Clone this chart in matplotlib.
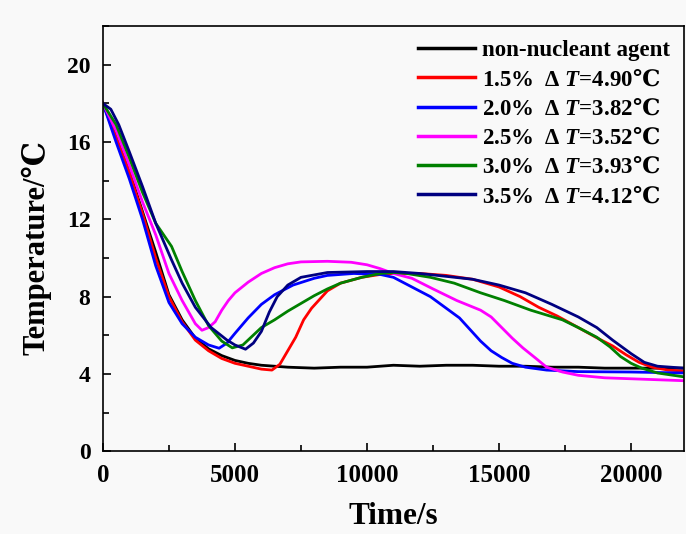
import numpy as np
import matplotlib
matplotlib.use("Agg")
import matplotlib.pyplot as plt
from matplotlib.ticker import MultipleLocator

plt.rcParams['font.family'] = ['Liberation Serif', 'DejaVu Serif']
plt.rcParams['font.weight'] = 'bold'
plt.rcParams['mathtext.fontset'] = 'custom'
plt.rcParams['mathtext.rm'] = 'Liberation Serif:bold'
plt.rcParams['mathtext.it'] = 'Liberation Serif:italic:bold'
plt.rcParams['mathtext.sf'] = 'DejaVu Serif'   # only used for the ℃ sign

# values (time in s, temperature in degC)
t_none = [0, 500, 1000, 1500, 2000, 2500, 3000, 3500, 4000, 4500, 5000, 5500, 6000, 7000,
          8000, 9000, 10000, 11000, 12000, 13000, 14000, 15000, 16000, 17000, 18000,
          19000, 20000, 21000, 22000]
T_none = [18.0, 16.3, 14.5, 12.4, 10.3, 8.1, 6.8, 5.85, 5.3, 4.95, 4.7, 4.55, 4.45, 4.35,
          4.3, 4.35, 4.35, 4.45, 4.4, 4.45, 4.45, 4.4, 4.4, 4.35, 4.35,
          4.3, 4.3, 4.3, 4.3]

t_15 = [0, 500, 1000, 1500, 2000, 2500, 3000, 3500, 4000, 4500, 5000, 5500, 6000, 6400,
        6700, 7000, 7300, 7600, 7900, 8500, 9000, 9800, 10500, 11000, 12000, 13000, 14000,
        15000, 15800, 16500, 17200, 18000, 18800, 19300, 19800, 20300, 20800, 21400, 22000]
T_15 = [18.0, 16.2, 14.4, 12.3, 10.0, 8.0, 6.7, 5.75, 5.2, 4.8, 4.55, 4.4, 4.25, 4.2,
        4.5, 5.2, 5.9, 6.8, 7.4, 8.3, 8.7, 9.0, 9.15, 9.2, 9.2, 9.1, 8.9,
        8.5, 8.0, 7.45, 7.0, 6.4, 5.8, 5.45, 5.0, 4.6, 4.35, 4.2, 4.15]

t_20 = [0, 500, 1000, 1500, 2000, 2500, 3000, 3500, 4000, 4400, 4700, 5000, 5500, 6000,
        6500, 7200, 8000, 8500, 9500, 10500, 11000, 11700, 12400, 13000, 13500, 13900,
        14300, 14700, 15100, 15500, 16000, 16800, 18000, 20000, 22000]
T_20 = [18.0, 16.0, 14.1, 12.0, 9.6, 7.7, 6.6, 5.9, 5.5, 5.33, 5.6, 6.1, 6.9, 7.6,
        8.1, 8.6, 8.95, 9.1, 9.2, 9.15, 9.0, 8.5, 8.0, 7.4, 6.9, 6.3,
        5.7, 5.2, 4.85, 4.55, 4.35, 4.2, 4.12, 4.1, 4.05]

t_25 = [0, 500, 1000, 1500, 2000, 2500, 3000, 3500, 3750, 4000, 4250, 4500, 4750, 5000,
        5500, 6000, 6500, 7000, 7500, 8500, 9400, 10000, 10500, 11000, 11700, 12500,
        13400, 14300, 14700, 15100, 15500, 15900, 16400, 16800, 17400, 18000, 19000,
        20000, 21000, 22000]
T_25 = [18.0, 16.6, 14.8, 12.9, 11.2, 9.2, 7.8, 6.6, 6.26, 6.4, 6.7, 7.3, 7.8, 8.2,
        8.75, 9.2, 9.5, 9.7, 9.8, 9.83, 9.78, 9.65, 9.45, 9.2, 8.95, 8.4,
        7.8, 7.3, 6.95, 6.4, 5.85, 5.35, 4.8, 4.35, 4.1, 3.93, 3.8,
        3.75, 3.7, 3.65]

t_30 = [0, 500, 1000, 1500, 2000, 2200, 2600, 3000, 3500, 4000, 4500, 4900, 5300, 6000,
        6500, 7000, 7500, 8000, 8500, 9000, 9800, 10500, 11000, 11500, 12400, 13300,
        14300, 15200, 16200, 17400, 18000, 18700, 19200, 19600, 20000, 20400, 21000, 22000]
T_30 = [18.0, 16.9, 15.2, 13.4, 11.8, 11.4, 10.6, 9.3, 7.8, 6.5, 5.7, 5.35, 5.5, 6.4,
        6.8, 7.25, 7.65, 8.05, 8.4, 8.7, 9.0, 9.2, 9.25, 9.2, 9.0, 8.7,
        8.2, 7.8, 7.3, 6.8, 6.4, 5.9, 5.4, 4.9, 4.55, 4.3, 4.05, 3.85]

t_35 = [0, 300, 600, 1000, 1500, 2000, 2600, 3000, 3500, 4100, 4700, 5000, 5400, 5700,
        6000, 6300, 6600, 7000, 7500, 8500, 10000, 11000, 12000, 13000, 14000, 15000,
        16000, 17000, 18000, 18700, 19300, 20000, 20500, 21000, 22000]
T_35 = [18.0, 17.7, 16.9, 15.5, 13.7, 11.8, 9.9, 8.7, 7.45, 6.4, 5.75, 5.5, 5.28, 5.6,
        6.2, 7.2, 8.0, 8.6, 9.0, 9.25, 9.3, 9.3, 9.2, 9.05, 8.9, 8.6,
        8.2, 7.6, 6.95, 6.4, 5.75, 5.05, 4.6, 4.4, 4.3]

series = [
    (t_none, T_none, 'black', 'non-nucleant agent'),
    (t_15, T_15, '#ff0000', '1.5%  Δ $T$=4.90$\\mathsf{℃}$'),
    (t_20, T_20, '#0000ff', '2.0%  Δ $T$=3.82$\\mathsf{℃}$'),
    (t_25, T_25, '#ff00ff', '2.5%  Δ $T$=3.52$\\mathsf{℃}$'),
    (t_30, T_30, '#008000', '3.0%  Δ $T$=3.93$\\mathsf{℃}$'),
    (t_35, T_35, '#000080', '3.5%  Δ $T$=4.12$\\mathsf{℃}$'),
]

fig = plt.figure(figsize=(6.86, 5.34), dpi=100, facecolor='#f9f9f9')
ax = fig.add_axes([0.150, 0.155, 0.847, 0.796])
ax.set_facecolor('#f9f9f9')

for t, T, c, lab in series:
    ax.plot(t, T, color=c, lw=2, label=lab, solid_joinstyle='round')

ax.set_xlim(0, 22000)
ax.set_ylim(0, 22)
ax.xaxis.set_major_locator(MultipleLocator(5000))
ax.xaxis.set_minor_locator(MultipleLocator(2500))
ax.yaxis.set_major_locator(MultipleLocator(4))
ax.yaxis.set_minor_locator(MultipleLocator(2))
ax.tick_params(which='both', direction='in', width=1.2)
ax.tick_params(which='major', length=6)
ax.tick_params(which='minor', length=4)
ax.tick_params(axis='x', labelsize=18, pad=9)
ax.tick_params(axis='y', labelsize=17, pad=9)
for s in ax.spines.values():
    s.set_linewidth(1.2)

ax.set_xlabel('Time/s', fontsize=22.5, fontweight='bold', labelpad=11)
ax.set_ylabel('Temperature/℃', fontsize=22, fontweight='bold')
ax.yaxis.set_label_coords(-0.088, 0.48)

leg = ax.legend(loc='upper right', frameon=False, fontsize=16.5, handlelength=2.5,
                labelspacing=0.36, handletextpad=0.3, borderaxespad=0.2)
for line in leg.get_lines():
    line.set_linewidth(2.5)

fig.savefig('out.png', dpi=100, facecolor=fig.get_facecolor())
